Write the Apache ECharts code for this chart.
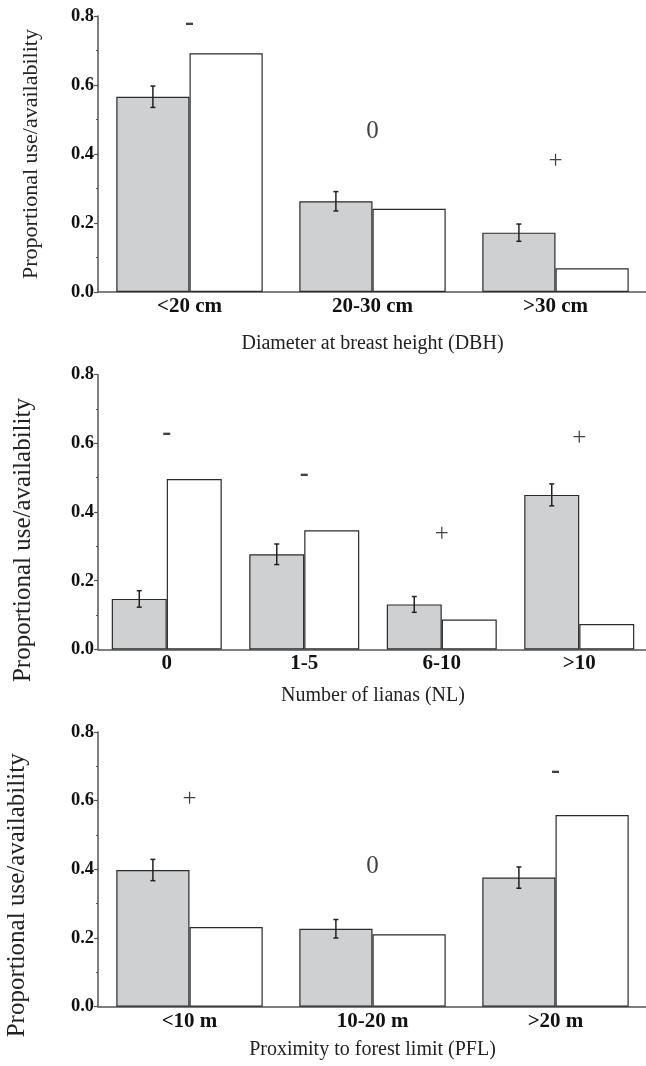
<!DOCTYPE html>
<html>
<head>
<meta charset="utf-8">
<script src="https://cdn.jsdelivr.net/npm/echarts@6/dist/echarts.min.js"></script>
<style>
html,body{margin:0;padding:0;background:#fff;}
#chart{width:646px;height:1066px;}
</style>
</head>
<body>
<div id="chart"></div>
<script>
// Panel 1: Diameter at breast height
const dbhCats = ['<20 cm', '20-30 cm', '>30 cm'];
const dbhUse = [0.566, 0.263, 0.172];
const dbhAvail = [0.692, 0.241, 0.069];
const dbhErr = [0.031, 0.028, 0.025];
const dbhSigns = ['-', '0', '+'];
const dbhSignY = [0.78, 0.464, 0.377];

// Panel 2: Number of lianas
const nlCats = ['0', '1-5', '6-10', '>10'];
const nlUse = [0.147, 0.277, 0.131, 0.450];
const nlAvail = [0.496, 0.347, 0.087, 0.074];
const nlErr = [0.024, 0.030, 0.023, 0.032];
const nlSigns = ['-', '-', '+', '+'];
const nlSignY = [0.63, 0.51, 0.334, 0.615];

// Panel 3: Proximity to forest limit
const pflCats = ['<10 m', '10-20 m', '>20 m'];
const pflUse = [0.398, 0.227, 0.376];
const pflAvail = [0.232, 0.211, 0.558];
const pflErr = [0.031, 0.027, 0.031];
const pflSigns = ['+', '0', '-'];
const pflSignY = [0.604, 0.408, 0.687];

const panels = [
  {cats: dbhCats, use: dbhUse, avail: dbhAvail, err: dbhErr, signs: dbhSigns, signY: dbhSignY,
   xName: 'Diameter at breast height (DBH)'},
  {cats: nlCats, use: nlUse, avail: nlAvail, err: nlErr, signs: nlSigns, signY: nlSignY,
   xName: 'Number of lianas (NL)'},
  {cats: pflCats, use: pflUse, avail: pflAvail, err: pflErr, signs: pflSigns, signY: pflSignY,
   xName: 'Proximity to forest limit (PFL)'}
];

const layout = [
  {top: 16, height: 276, width: 549, xGap: 42, yGap: 56, yFont: 22, yShift: 0},
  {top: 374.7, height: 274.7, width: 550, xGap: 36, yGap: 62, yFont: 25, yShift: 28},
  {top: 732, height: 274.7, width: 549, xGap: 33, yGap: 68, yFont: 25, yShift: 26}
];

const FONT = '"Liberation Serif", "Times New Roman", serif';
const AXIS_COLOR = '#555';
const EDGE = '#2b2b2b';

const grids = [], xAxes = [], yAxes = [], series = [];

panels.forEach((p, i) => {
  const L = layout[i];
  grids.push({left: 98, top: L.top, height: L.height, width: L.width,
    containLabel: false, outerBoundsMode: 'none'});
  xAxes.push({
    type: 'category', gridIndex: i, data: p.cats,
    axisLine: {show: true, lineStyle: {color: AXIS_COLOR, width: 1.5}},
    axisTick: {show: false},
    axisLabel: {fontFamily: FONT, fontWeight: 'bold', fontSize: 21, color: '#111', margin: 4},
    name: p.xName, nameLocation: 'middle', nameGap: L.xGap,
    nameTextStyle: {fontFamily: FONT, fontSize: 20, color: '#222'}
  });
  yAxes.push({
    type: 'value', gridIndex: i, min: 0, max: 0.8, interval: 0.2,
    axisLine: {show: true, lineStyle: {color: AXIS_COLOR, width: 1.5}},
    axisTick: {show: true, length: 4, lineStyle: {color: AXIS_COLOR, width: 1.2}},
    minorTick: {show: true, splitNumber: 2, length: 2, lineStyle: {color: AXIS_COLOR, width: 1.2}},
    splitLine: {show: false},
    axisLabel: {fontFamily: FONT, fontWeight: 'bold', fontSize: 18.5, color: '#111', margin: 4,
      formatter: v => v.toFixed(1)},
    name: 'Proportional use/availability', nameLocation: 'middle', nameGap: L.yGap,
    nameTextStyle: {fontFamily: FONT, fontSize: L.yFont, color: '#222',
      padding: [0, L.yShift * 2, 0, 0]}
  });
  series.push({
    type: 'bar', xAxisIndex: i, yAxisIndex: i, data: p.use,
    barGap: '0%', barCategoryGap: '20%',
    itemStyle: {color: '#cfd0d2', borderColor: EDGE, borderWidth: 1.2},
    silent: true, animation: false
  });
  series.push({
    type: 'bar', xAxisIndex: i, yAxisIndex: i, data: p.avail,
    barGap: '0%', barCategoryGap: '20%',
    itemStyle: {color: '#ffffff', borderColor: EDGE, borderWidth: 1.2},
    silent: true, animation: false
  });
  series.push({
    type: 'custom', xAxisIndex: i, yAxisIndex: i,
    data: p.use.map((v, k) => [k, v, p.err[k]]),
    renderItem: function (params, api) {
      const k = api.value(0), v = api.value(1), e = api.value(2);
      const band = api.size([1, 0])[0];
      const bw = band * 0.8 / 2;
      const cx = api.coord([k, v])[0] - bw / 2;
      const yt = api.coord([k, v + e])[1];
      const yb = api.coord([k, v - e])[1];
      const c = 2.5;
      const st = {stroke: '#222', lineWidth: 1.5};
      return {type: 'group', children: [
        {type: 'line', shape: {x1: cx, y1: yt, x2: cx, y2: yb}, style: st},
        {type: 'line', shape: {x1: cx - c, y1: yt, x2: cx + c, y2: yt}, style: st},
        {type: 'line', shape: {x1: cx - c, y1: yb, x2: cx + c, y2: yb}, style: st}
      ]};
    },
    z: 5, silent: true, animation: false
  });
  series.push({
    type: 'scatter', xAxisIndex: i, yAxisIndex: i, symbolSize: 0,
    data: p.signs.map((s, k) => ({
      value: [k, p.signY[k]],
      label: s === '-' ? {fontWeight: 'bold', fontSize: 27} : {fontWeight: 'normal', fontSize: 25}
    })),
    label: {
      show: true, position: 'inside',
      formatter: prm => p.signs[prm.dataIndex],
      fontFamily: FONT, color: '#111'
    },
    silent: true, animation: false
  });
});

const chart = echarts.init(document.getElementById('chart'), null, {renderer: 'canvas'});
chart.setOption({
  animation: false,
  backgroundColor: '#ffffff',
  grid: grids, xAxis: xAxes, yAxis: yAxes, series: series
});
</script>
</body>
</html>
